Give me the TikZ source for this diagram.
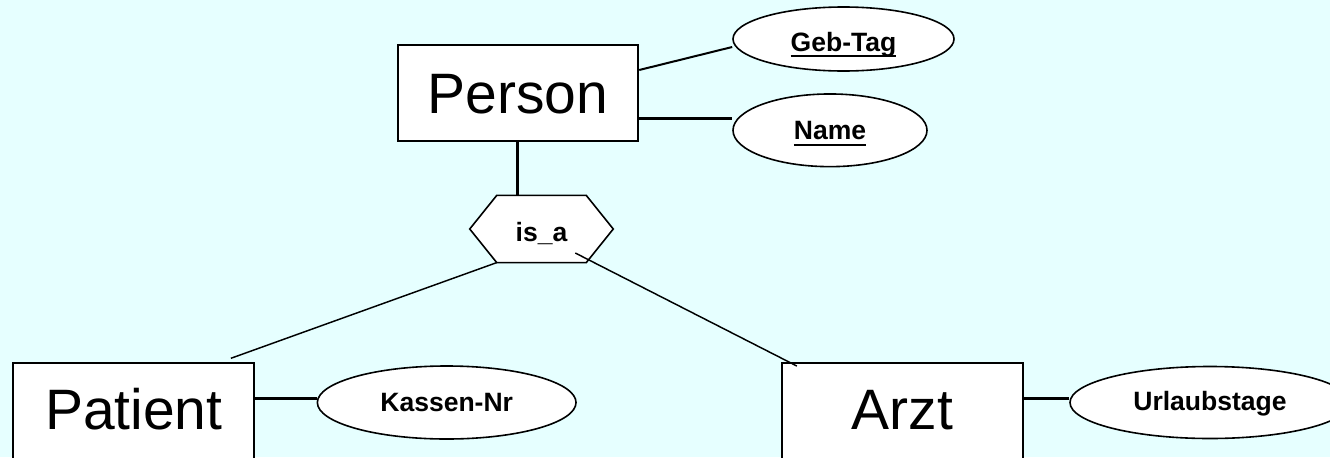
\documentclass[tikz,border=0pt]{standalone}
\usepackage{fontspec}
\setmainfont{Liberation Sans}
\usetikzlibrary{backgrounds,calc,shapes.geometric}
\definecolor{bgcol}{RGB}{230,255,255}
\newcommand\ulin[1]{\setbox0\hbox{#1}\rlap{\rule[-4.2pt]{\wd0}{1.5pt}}\box0}
\begin{document}
\begin{tikzpicture}[x=0.75pt,y=-0.75pt,
  entity/.style={draw,line width=1.5pt,fill=white,inner sep=0pt,minimum width=180.5pt,
    font=\fontsize{42.75pt}{48pt}\selectfont,text height=30.75pt,text depth=0pt},
  attr/.style={ellipse,draw,line width=1.2pt,fill=white,inner sep=0pt,
    font=\fontsize{19.9pt}{24pt}\selectfont\bfseries,text depth=0pt},
  conn/.style={line width=1.1pt},
  thickconn/.style={line width=2.25pt}]
\useasboundingbox (0,0) rectangle (1330,457);
% entities
\node[entity,minimum height=72pt] (person) at (517.9,93) {Person};
\node[entity,minimum height=82.5pt,anchor=north,text depth=13.25pt] (patient) at (133.8,362.3) {Patient};
\node[entity,minimum height=82.5pt,anchor=north,text depth=13.25pt] (arzt) at (902.2,362.3) {Arzt};
% attributes
\node[attr,minimum width=165.75pt,minimum height=48pt,text height=19pt] (geb) at (843.5,39) {\ulin{Geb-Tag}};
\node[attr,minimum width=145.5pt,minimum height=54.5pt,text height=14.5pt] (name) at (830,130.3) {\ulin{Name}};
\node[attr,minimum width=194pt,minimum height=54.75pt,text height=13.8pt] (kassen) at (446.7,402.5) {Kassen-Nr};
\node[attr,minimum width=210pt,minimum height=54pt,text height=11.5pt] (urlaub) at (1210,402.5) {Urlaubstage};
% is_a
\node[inner sep=0pt,minimum width=107.25pt,minimum height=50pt,
  font=\fontsize{19.9pt}{24pt}\selectfont\bfseries,text height=19pt,text depth=0pt] (isa) at (541.5,229) {is\_a};
\begin{scope}[on background layer]
\fill[bgcol] (0,0) rectangle (1330,457);
\draw[line width=1.2pt,fill=white] (isa.west) -- ([xshift=20.25pt]isa.north west) -- ([xshift=-20.25pt]isa.north east)
  -- (isa.east) -- ([xshift=-20.25pt]isa.south east) -- ([xshift=20.25pt]isa.south west) -- cycle;
\end{scope}
% connectors
\draw[line width=1.5pt] ([yshift=17.25pt]person.east) -- ([yshift=-6pt]geb.west);
\coordinate (pn) at ([yshift=-19pt]person.east);
\draw[thickconn] (pn) -- (pn -| name.west);
\draw[thickconn] (person.south) -- (person.south |- isa.north);
\draw[conn] ([xshift=20.25pt]isa.south west) -- ([xshift=-18.2pt,yshift=3pt]patient.north east);
\draw[conn] ([xshift=-28.5pt,yshift=7.2pt]isa.south east) -- ([xshift=12pt,yshift=-2.8pt]arzt.north west);
\coordinate (kw) at ([yshift=3.15pt]kassen.west);
\draw[thickconn] (kw -| patient.east) -- (kw);
\coordinate (uw) at ([yshift=3.15pt]urlaub.west);
\draw[thickconn] (uw -| arzt.east) -- (uw);
\end{tikzpicture}
\end{document}
